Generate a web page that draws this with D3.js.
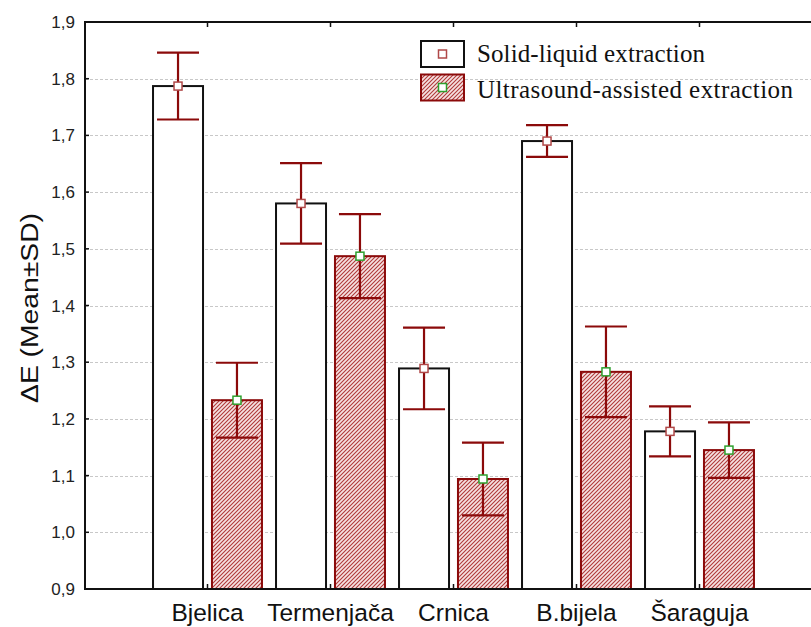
<!DOCTYPE html>
<html>
<head>
<meta charset="utf-8">
<script src="https://cdn.jsdelivr.net/npm/d3@7"></script>
<style>
  html, body { margin: 0; padding: 0; background: #fff; }
  svg { display: block; }
</style>
</head>
<body>
<svg id="chart" width="811" height="627"></svg>
<script>
// Cultivars and ΔE values (mean with SD) for the two extraction methods
const categories = ["Bjelica", "Termenjača", "Crnica", "B.bijela", "Šaraguja"];
const seriesNames = ["Solid-liquid extraction", "Ultrasound-assisted extraction"];
const solidMean = [1.787, 1.580, 1.289, 1.690, 1.178];
const solidSD   = [0.059, 0.071, 0.072, 0.028, 0.044];
const ultraMean = [1.233, 1.487, 1.094, 1.283, 1.145];
const ultraSD   = [0.066, 0.074, 0.064, 0.080, 0.049];
const yTicks = [0.9, 1.0, 1.1, 1.2, 1.3, 1.4, 1.5, 1.6, 1.7, 1.8, 1.9];

const svg = d3.select("#chart");
const plotLeft = 85, plotTop = 22, plotBottom = 589, plotRight = 813;
const darkRed = "#8b0a0a";

const y = d3.scaleLinear().domain([0.9, 1.9]).range([plotBottom, plotTop]);
const x = d3.scaleBand().domain(categories).range([146, 761]).padding(0);
const sub = d3.scaleBand().domain(seriesNames).range([-56, 56]).paddingInner(0.1);

// hatch pattern for the ultrasound bars
const defs = svg.append("defs");
const pat = defs.append("pattern").attr("id", "hatch")
  .attr("patternUnits", "userSpaceOnUse").attr("width", 4).attr("height", 4);
pat.append("rect").attr("width", 4).attr("height", 4).attr("fill", "#f6e2e2");
pat.append("path").attr("d", "M-1,1 l2,-2 M0,4 l4,-4 M3,5 l2,-2")
  .attr("stroke", "#b03a3a").attr("stroke-width", 1.1);

// horizontal dashed gridlines
svg.append("g").selectAll("line").data(yTicks.slice(1, -1)).join("line")
  .attr("x1", plotLeft).attr("x2", plotRight)
  .attr("y1", d => Math.round(y(d)) + 0.5).attr("y2", d => Math.round(y(d)) + 0.5)
  .attr("stroke", "#c8c8c8").attr("stroke-dasharray", "3,2").attr("stroke-width", 1);

// y tick labels
svg.append("g").selectAll("text").data(yTicks).join("text")
  .attr("x", 75).attr("y", d => y(d) + 6)
  .attr("text-anchor", "end")
  .attr("font-family", "Liberation Sans, Arial, sans-serif")
  .attr("font-size", 17).attr("fill", "#222")
  .text(d => d3.format(".1f")(d).replace(".", ","));

// y axis title
svg.append("text")
  .attr("transform", `translate(38,308) rotate(-90)`)
  .attr("text-anchor", "middle")
  .attr("font-family", "Liberation Sans, Arial, sans-serif")
  .attr("font-size", 23).attr("fill", "#111")
  .attr("textLength", 190).attr("lengthAdjust", "spacingAndGlyphs")
  .text("ΔE (Mean±SD)");

const rows = categories.map((c, i) => [
  { cat: c, s: seriesNames[0], mean: solidMean[i], sd: solidSD[i] },
  { cat: c, s: seriesNames[1], mean: ultraMean[i], sd: ultraSD[i] }
]).flat();

const cx = d => x(d.cat) + x.bandwidth() / 2 + sub(d.s) + sub.bandwidth() / 2;
const bw = 50;

// bars
svg.append("g").selectAll("rect").data(rows).join("rect")
  .attr("x", d => cx(d) - bw / 2)
  .attr("y", d => y(d.mean))
  .attr("width", bw)
  .attr("height", d => plotBottom - y(d.mean))
  .attr("fill", d => d.s === seriesNames[0] ? "#fff" : "url(#hatch)")
  .attr("stroke", d => d.s === seriesNames[0] ? "#111" : darkRed)
  .attr("stroke-width", 2);

// error bars
const eb = svg.append("g").attr("stroke", darkRed).attr("stroke-width", 2.2);
eb.selectAll("line.v").data(rows).join("line").attr("class", "v")
  .attr("x1", cx).attr("x2", cx)
  .attr("y1", d => y(d.mean + d.sd)).attr("y2", d => y(d.mean - d.sd));
eb.selectAll("line.t").data(rows).join("line").attr("class", "t")
  .attr("x1", d => cx(d) - 21).attr("x2", d => cx(d) + 21)
  .attr("y1", d => y(d.mean + d.sd)).attr("y2", d => y(d.mean + d.sd));
eb.selectAll("line.b").data(rows).join("line").attr("class", "b")
  .attr("x1", d => cx(d) - 21).attr("x2", d => cx(d) + 21)
  .attr("y1", d => y(d.mean - d.sd)).attr("y2", d => y(d.mean - d.sd));

// mean markers
svg.append("g").selectAll("rect").data(rows).join("rect")
  .attr("x", d => cx(d) - 4).attr("y", d => y(d.mean) - 4)
  .attr("width", 8).attr("height", 8)
  .attr("fill", "#fff")
  .attr("stroke", d => d.s === seriesNames[0] ? "#b04848" : "#2ea02e")
  .attr("stroke-width", 1.5);

// frame: left, top and bottom lines
const frame = svg.append("g").attr("stroke", "#111").attr("stroke-width", 2).attr("fill", "none");
frame.append("path").attr("d", `M${plotRight},${plotTop}H${plotLeft}V${plotBottom}H${plotRight}`);

// inward ticks at category centres on top and bottom
const catTicks = svg.append("g").attr("stroke", "#111").attr("stroke-width", 1.5);
catTicks.selectAll("line.bt").data(categories).join("line").attr("class", "bt")
  .attr("x1", d => x(d) + x.bandwidth() / 2).attr("x2", d => x(d) + x.bandwidth() / 2)
  .attr("y1", plotBottom).attr("y2", plotBottom - 5);
catTicks.selectAll("line.tt").data(categories).join("line").attr("class", "tt")
  .attr("x1", d => x(d) + x.bandwidth() / 2).attr("x2", d => x(d) + x.bandwidth() / 2)
  .attr("y1", plotTop).attr("y2", plotTop + 5);
// inward ticks on the y axis
svg.append("g").selectAll("line").data(yTicks).join("line")
  .attr("x1", plotLeft).attr("x2", plotLeft + 4)
  .attr("y1", d => y(d)).attr("y2", d => y(d))
  .attr("stroke", "#111").attr("stroke-width", 1.5);

// category labels
svg.append("g").selectAll("text").data(categories).join("text")
  .attr("x", d => x(d) + x.bandwidth() / 2)
  .attr("y", 621)
  .attr("text-anchor", "middle")
  .attr("font-family", "Liberation Sans, Arial, sans-serif")
  .attr("font-size", 24.5).attr("fill", "#111")
  .text(d => d);

// legend
const legend = svg.append("g");
const legendText = [228, 316];
seriesNames.forEach((name, i) => {
  const ly = 41 + i * 33.5;
  legend.append("rect").attr("x", 421).attr("y", ly).attr("width", 43).attr("height", 26)
    .attr("fill", i === 0 ? "#fff" : "url(#hatch)")
    .attr("stroke", i === 0 ? "#111" : darkRed).attr("stroke-width", 2);
  legend.append("rect").attr("x", 438.5).attr("y", ly + 9).attr("width", 8).attr("height", 8)
    .attr("fill", "#fff").attr("stroke", i === 0 ? "#b04848" : "#2ea02e").attr("stroke-width", 1.5);
  legend.append("text").attr("x", 477).attr("y", ly + 21 + i * 2)
    .attr("font-family", "Liberation Serif, Times New Roman, serif")
    .attr("font-size", 25).attr("fill", "#111")
    .attr("textLength", legendText[i]).attr("lengthAdjust", "spacing")
    .text(name);
});
</script>
</body>
</html>
